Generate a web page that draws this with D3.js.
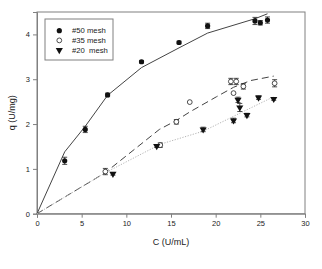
<!DOCTYPE html>
<meta charset="utf-8">
<html>
<head>
    <meta charset="utf-8">
    <style>
        body { margin: 0; background: #fff; }
        text { font-family: "Liberation Sans", Arial, sans-serif; fill: #222; }
    </style>
</head>
<body>
    <script src="https://d3js.org/d3.v7.min.js"></script>
    <script>
        // #50 mesh (filled circles)
        const c50 = [3.1, 5.4, 7.9, 11.7, 15.9, 19.1, 24.4, 25.0, 25.8];
        const q50 = [1.18, 1.88, 2.65, 3.39, 3.82, 4.19, 4.30, 4.26, 4.32];
        const e50 = [0.08, 0.07, 0.04, 0.03, 0.03, 0.06, 0.08, 0.05, 0.07];
        // #35 mesh (open circles)
        const c35 = [7.65, 13.8, 15.6, 17.1, 21.7, 22.3, 22.0, 23.1, 26.6];
        const q35 = [0.94, 1.53, 2.05, 2.49, 2.95, 2.95, 2.69, 2.84, 2.91];
        const e35 = [0.07, 0.05, 0.05, 0.0, 0.07, 0.07, 0.0, 0.06, 0.08];
        // #20 mesh (filled down triangles)
        const c20 = [8.5, 13.4, 18.6, 22.0, 22.5, 22.7, 23.5, 24.8, 26.5];
        const q20 = [0.89, 1.51, 1.88, 2.08, 2.54, 2.37, 2.20, 2.59, 2.56];
        const e20 = [0.03, 0.03, 0.05, 0.05, 0.06, 0.09, 0.04, 0.04, 0.03];

        // fitted curves
        const fit50C = [0, 3.1, 5.4, 7.9, 11.7, 15.9, 19.1, 24.4, 25.8];
        const fit50Q = [0, 1.38, 1.95, 2.64, 3.26, 3.70, 4.03, 4.35, 4.46];
        const fit35C = [0, 7.6, 13.7, 15.6, 17.1, 20.1, 22.0, 23.9, 26.5];
        const fit35Q = [0, 0.91, 1.88, 2.08, 2.27, 2.61, 2.82, 2.97, 3.07];
        const fit20C = [0, 7.7, 13.8, 18.6, 23.1, 26.5];
        const fit20Q = [0, 0.92, 1.55, 1.84, 2.28, 2.61];

        const xTicks = [0, 5, 10, 15, 20, 25, 30];
        const yTicks = [0, 1, 2, 3, 4];
        const legendLabels = ["#50 mesh", "#35 mesh", "#20\u00a0 mesh"];

        const width = 322, height = 269;
        const margin = {top: 12, right: 17, bottom: 55.3, left: 37};
        const w = width - margin.left - margin.right;
        const h = height - margin.top - margin.bottom;

        const svg = d3.select("body").append("svg")
            .attr("width", width)
            .attr("height", height);

        const scaleX = d3.scaleLinear().domain([0, 30]).range([0, w]);
        const scaleY = d3.scaleLinear().domain([0, 4.5]).range([h, 0]);

        const axisColor = "#808080";
        const g = svg.append("g").attr("transform", `translate(${margin.left},${margin.top})`);

        // frame
        g.append("rect")
            .attr("width", w).attr("height", h)
            .attr("fill", "none").attr("stroke", axisColor).attr("stroke-width", 1);

        const fmt = d3.format("d");
        const groupAxisX = g.append("g").attr("transform", `translate(0,${h})`)
            .call(d3.axisBottom(scaleX).tickValues(xTicks).tickFormat(fmt).tickSize(4).tickPadding(3));
        const groupAxisY = g.append("g")
            .call(d3.axisLeft(scaleY).tickValues(yTicks).tickFormat(fmt).tickSize(4).tickPadding(3));
        [groupAxisX, groupAxisY].forEach(ax => {
            ax.select(".domain").attr("stroke", axisColor);
            ax.selectAll(".tick line").attr("stroke", axisColor);
            ax.selectAll(".tick text")
                .attr("fill", "#222")
                .style("font-family", "'Liberation Sans', Arial, sans-serif")
                .style("font-size", "7.5px");
        });

        // axis titles
        svg.append("text")
            .attr("x", margin.left + w / 2).attr("y", 245)
            .attr("text-anchor", "middle")
            .style("font-size", "9px")
            .text("C (U/mL)");
        svg.append("text")
            .attr("transform", `translate(15,${margin.top + h / 2}) rotate(-90)`)
            .attr("text-anchor", "middle")
            .style("font-size", "9px")
            .text("q (U/mg)");

        // curves
        const line = d3.line().x(d => scaleX(d[0])).y(d => scaleY(d[1]));
        const curves = [
            {c: fit50C, q: fit50Q, stroke: "#444", dash: null, sw: 1},
            {c: fit35C, q: fit35Q, stroke: "#444", dash: "7,4", sw: 1},
            {c: fit20C, q: fit20Q, stroke: "#b5b5b5", dash: "1.2,1.5", sw: 1},
        ];
        curves.forEach(cv => {
            g.append("path")
                .datum(cv.c.map((c, i) => [c, cv.q[i]]))
                .attr("d", line)
                .attr("fill", "none")
                .attr("stroke", cv.stroke)
                .attr("stroke-width", cv.sw)
                .attr("stroke-dasharray", cv.dash);
        });

        // markers
        const tri = d3.symbol().type(d3.symbolTriangle).size(22)();
        function drawSeries(cs, qs, es, kind) {
            const pts = cs.map((c, i) => ({x: scaleX(c), y: scaleY(qs[i]), e: es[i], q: qs[i]}));
            const grp = g.append("g");
            // error bars
            pts.forEach(p => {
                if (p.e <= 0) return;
                const y1 = scaleY(p.q + p.e), y2 = scaleY(p.q - p.e);
                grp.append("line").attr("x1", p.x).attr("x2", p.x).attr("y1", y1).attr("y2", y2)
                    .attr("stroke", "#222").attr("stroke-width", 0.8);
                [y1, y2].forEach(yy => grp.append("line")
                    .attr("x1", p.x - 2.5).attr("x2", p.x + 2.5).attr("y1", yy).attr("y2", yy)
                    .attr("stroke", "#222").attr("stroke-width", 0.8));
            });
            pts.forEach(p => {
                if (kind === "filled") {
                    grp.append("circle").attr("cx", p.x).attr("cy", p.y).attr("r", 2.6).attr("fill", "#111");
                } else if (kind === "open") {
                    grp.append("circle").attr("cx", p.x).attr("cy", p.y).attr("r", 2.4)
                        .attr("fill", "#fff").attr("stroke", "#222").attr("stroke-width", 0.8);
                } else {
                    grp.append("path").attr("d", tri)
                        .attr("transform", `translate(${p.x},${p.y}) rotate(180)`)
                        .attr("fill", "#111");
                }
            });
        }
        drawSeries(c50, q50, e50, "filled");
        drawSeries(c35, q35, e35, "open");
        drawSeries(c20, q20, e20, "tri");

        // legend
        const legend = svg.append("g");
        legend.append("rect")
            .attr("x", 45).attr("y", 19).attr("width", 68).attr("height", 41)
            .attr("fill", "#fff").attr("stroke", axisColor).attr("stroke-width", 1);
        const kinds = ["filled", "open", "tri"];
        legendLabels.forEach((lab, i) => {
            const y = 30.7 + i * 9.7;
            if (kinds[i] === "filled") {
                legend.append("circle").attr("cx", 59.3).attr("cy", y).attr("r", 2.6).attr("fill", "#111");
            } else if (kinds[i] === "open") {
                legend.append("circle").attr("cx", 59.3).attr("cy", y).attr("r", 2.4)
                    .attr("fill", "#fff").attr("stroke", "#222").attr("stroke-width", 0.8);
            } else {
                legend.append("path").attr("d", tri)
                    .attr("transform", `translate(59.3,${y}) rotate(180)`).attr("fill", "#111");
            }
            legend.append("text")
                .attr("x", 72).attr("y", y + 2.7)
                .style("font-size", "7.7px")
                .text(lab);
        });
    </script>
</body>
</html>
